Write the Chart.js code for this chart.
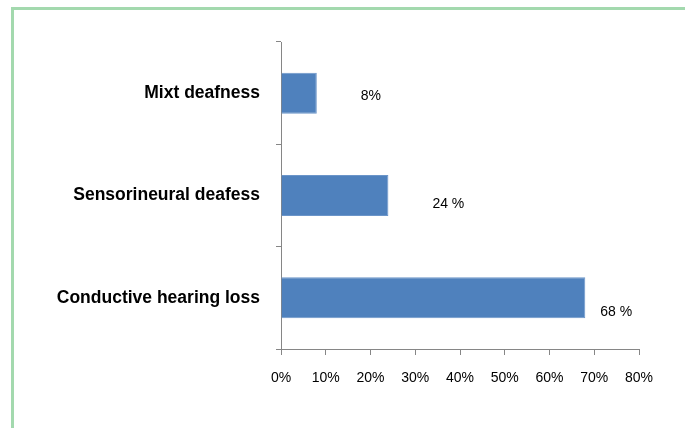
<!DOCTYPE html>
<html>
<head>
<meta charset="utf-8">
<script src="https://cdn.jsdelivr.net/npm/chart.js@4"></script>
<style>
  html, body { margin: 0; padding: 0; background: #ffffff; }
  #wrap { position: relative; width: 685px; height: 428px; overflow: hidden; }
  #frame { position: absolute; left: 11px; top: 7px; width: 700px; height: 450px;
           border-left: 3px solid #a3d9ae; border-top: 3px solid #a3d9ae; box-sizing: border-box; }
  canvas { position: absolute; left: 0; top: 0; }
</style>
</head>
<body>
<div id="wrap">
  <div id="frame"></div>
  <canvas id="c" width="685" height="428"></canvas>
</div>
<script>
const categories = ['Mixt deafness', 'Sensorineural deafess', 'Conductive hearing loss'];
const values = [8, 24, 68];
const valueLabels = ['8%', '24 %', '68 %'];
const labelOffsetX = [44, 44, 15];
const labelOffsetY = [3, 9, 14];
const xMin = 0, xMax = 80, xStep = 10;

const axisGray = '#868686';

const valueLabelPlugin = {
  id: 'valueLabels',
  afterDatasetsDraw(chart) {
    const ctx = chart.ctx;
    const meta = chart.getDatasetMeta(0);
    ctx.save();
    ctx.font = '14px "Liberation Sans", Arial, sans-serif';
    ctx.fillStyle = '#000000';
    ctx.textAlign = 'left';
    ctx.textBaseline = 'middle';
    meta.data.forEach((bar, i) => {
      ctx.fillText(valueLabels[i], bar.x + labelOffsetX[i], bar.y + labelOffsetY[i]);
    });
    ctx.restore();
  }
};

new Chart(document.getElementById('c'), {
  type: 'bar',
  data: {
    labels: categories,
    datasets: [{
      data: values,
      backgroundColor: '#4f81bd',
      borderColor: '#6b95c9',
      borderWidth: 1,
      categoryPercentage: 0.8,
      barPercentage: 0.5
    }]
  },
  options: {
    indexAxis: 'y',
    responsive: false,
    animation: false,
    devicePixelRatio: 1,
    layout: { padding: { left: 0, top: 42, right: 46, bottom: 0 } },
    plugins: { legend: { display: false }, tooltip: { enabled: false } },
    scales: {
      x: {
        min: xMin, max: xMax,
        ticks: {
          stepSize: xStep,
          callback: v => v + '%',
          color: '#000000',
          font: { family: '"Liberation Sans", Arial, sans-serif', size: 14 },
          padding: 15,
          maxRotation: 0
        },
        grid: { drawOnChartArea: false, drawTicks: true, tickLength: 6, color: axisGray },
        border: { color: axisGray, width: 1 },
        afterFit: s => { s.height = 428 - 349; }
      },
      y: {
        ticks: {
          color: '#000000',
          font: { family: '"Liberation Sans", Arial, sans-serif', size: 17.5, weight: 'bold' },
          padding: 16
        },
        grid: { drawOnChartArea: false, drawTicks: true, tickLength: 5, color: axisGray, offset: true },
        border: { color: axisGray, width: 1 },
        afterFit: s => { s.width = 281; }
      }
    }
  },
  plugins: [valueLabelPlugin]
});
</script>
</body>
</html>
